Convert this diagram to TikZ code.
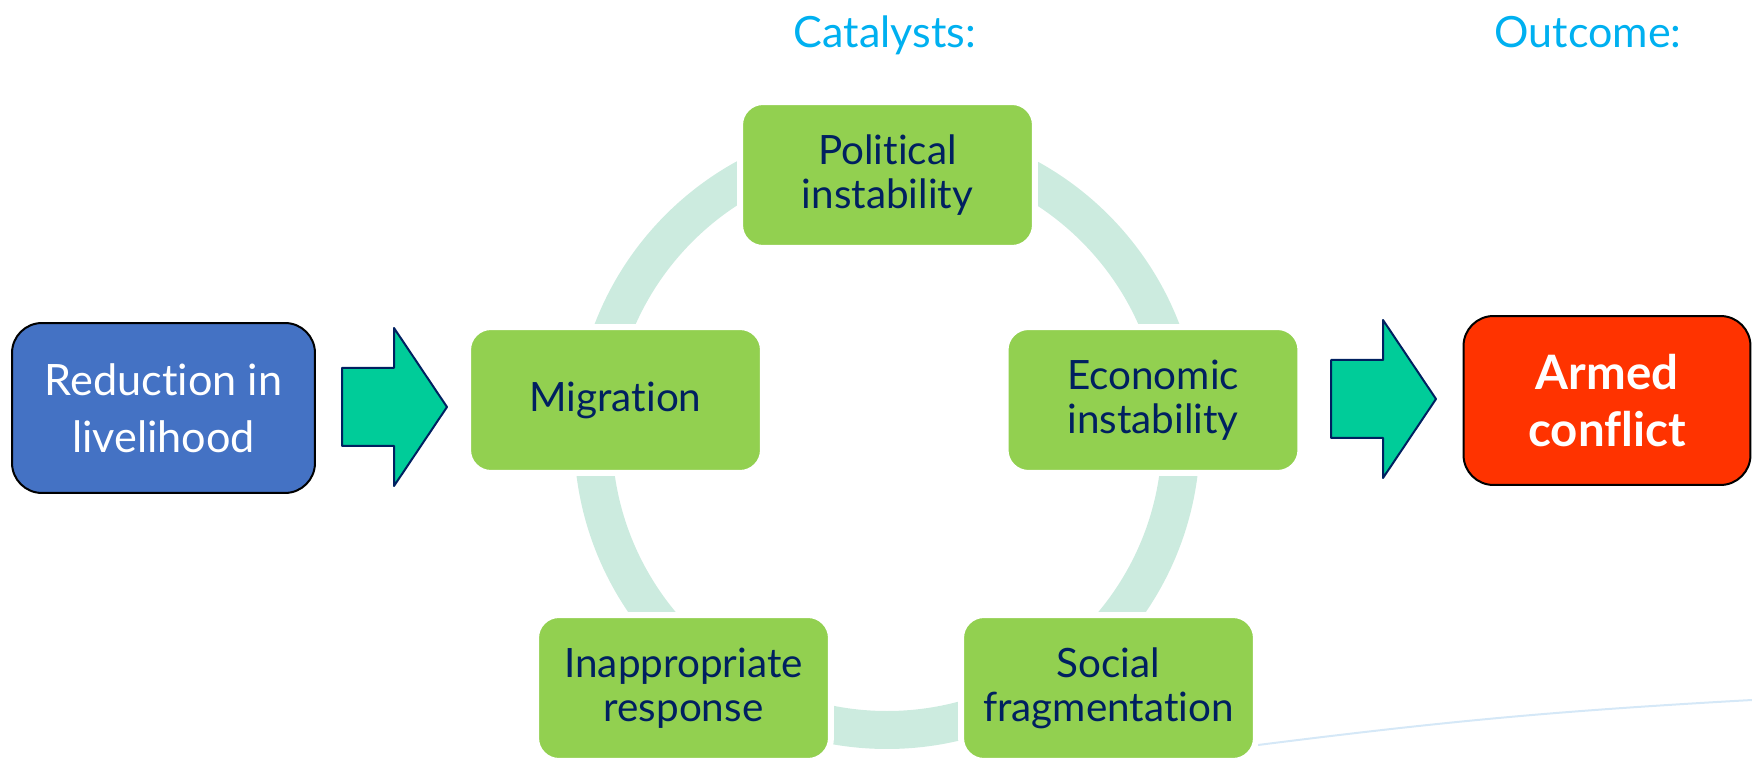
\documentclass[tikz,border=0pt]{standalone}
\usepackage{fontspec}
\setmainfont{Lato}[Ligatures={NoCommon}]
\definecolor{leafgreen}{HTML}{92D050}
\definecolor{ringmint}{HTML}{CCEBDF}
\definecolor{navytext}{HTML}{002060}
\definecolor{lossblue}{HTML}{4472C4}
\definecolor{warred}{HTML}{FF3300}
\definecolor{arrowteal}{HTML}{00CC99}
\definecolor{headcyan}{HTML}{00B0F0}
\definecolor{paleline}{HTML}{D5E8F7}
\begin{document}
\begin{tikzpicture}[x=0.02cm,y=-0.02cm,line join=round,
	catalyst/.style={fill=leafgreen,draw=white,line width=0.12cm,rounded corners=0.46cm,
		minimum width=5.9cm,minimum height=2.92cm,inner sep=0pt,text=navytext,align=center,
		font=\fontsize{23}{25}\selectfont},
	endbox/.style={draw=black,line width=0.04cm,rounded corners=0.6cm,inner sep=0pt,
		text=white,align=center},
	blockarrow/.style={fill=arrowteal,draw=navytext,line width=0.04cm},
	heading/.style={anchor=base,text=headcyan,font=\fontsize{24.5}{26}\selectfont}]
	\useasboundingbox (0,0) rectangle (1752,759);
	%%Vòng
	\coordinate (hub) at (887,436);
	\draw[ringmint,line width=0.76cm] (hub) circle[radius=294];
	\draw[paleline,line width=0.04cm] (1258,745) to[bend left=2] (1752,700);
	%%Hộp
	\node[catalyst] (polit) at (887.5,175) {Political\\instability};
	\node[catalyst] (migr) at (615.5,400) {Migration};
	\node[catalyst] (econ) at (1153,400) {Economic\\instability};
	\node[catalyst] (inappr) at (683.5,688) {Inappropriate\\response};
	\node[catalyst] (social) at (1108.5,688) {Social\\fragmentation};
	\node[endbox,fill=lossblue,minimum width=6.06cm,minimum height=3.4cm,
		font=\fontsize{24.6}{32.4}\selectfont] (reduce) at (163.5,408) {Reduction in\\livelihood};
	\node[endbox,fill=warred,minimum width=5.74cm,minimum height=3.38cm,
		font=\fontsize{27}{32}\selectfont\bfseries] (armed) at (1607,400.5) {Armed\\conflict};
	%%Tiêu đề
	\node[heading] (catal) at (885,48) {Catalysts:};
	\node[heading] (outc) at (1588,48) {Outcome:};
	%%Mũi tên
	\foreach \p in {(342,406),(1331,398)}{
			\draw[blockarrow] \p ++(0,-38) -- ++(52,0) -- ++(0,-40) -- ++(53,79) -- ++(-53,79)
			-- ++(0,-40) -- ++(-52,0) -- cycle;
		}
\end{tikzpicture}
\end{document}
